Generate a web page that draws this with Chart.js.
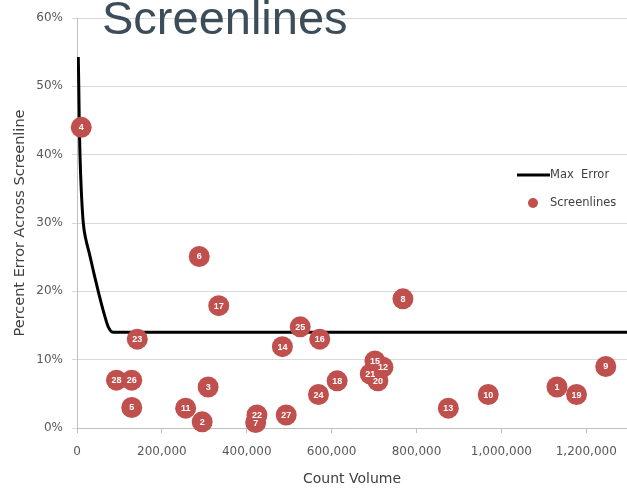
<!DOCTYPE html>
<html>
<head>
<meta charset="utf-8">
<style>
  html, body { margin: 0; padding: 0; background: #ffffff; overflow: hidden; }
  #wrap { position: relative; width: 627px; height: 488px; }
</style>
<script src="https://cdn.jsdelivr.net/npm/chart.js@4/dist/chart.umd.min.js"></script>
</head>
<body>
<div id="wrap"><canvas id="chart" width="627" height="488"></canvas></div>
<script>
// Maximum allowed error curve (percent) by count volume
const maxErrorVolumes = [3000, 4200, 5500, 7000, 10100, 14800, 21200, 28900, 40000, 50100, 63500, 73600, 85400, 1300000];
const maxErrorPercent = [54.3, 50, 44, 40, 34.8, 30, 27.5, 25.6, 22.6, 20, 16.8, 14.8, 14, 14];

// Screenline observations
const screenlineIds = [1, 2, 3, 4, 5, 6, 7, 8, 9, 10, 11, 12, 13, 14, 15, 16, 17, 18, 19, 20, 21, 22, 23, 24, 25, 26, 27, 28];
const screenlineVolumes = [1131000, 295000, 309000, 10000, 129000, 288000, 421000, 768000, 1246000, 969000,
                           256000, 721000, 875000, 484000, 702000, 572000, 334000, 613000, 1177000, 709000,
                           691000, 424000, 142000, 569000, 526000, 129000, 493000, 93000];
const screenlineErrors = [6.0, 0.9, 6.0, 44.0, 3.0, 25.1, 0.8, 18.9, 9.0, 4.9,
                          2.9, 8.9, 2.9, 11.9, 9.8, 13.0, 17.9, 6.9, 4.9, 6.9,
                          7.9, 1.9, 13.0, 4.9, 14.8, 7.0, 1.9, 7.0];

// Axis ticks
const xTickValues = [0, 200000, 400000, 600000, 800000, 1000000, 1200000];
const yTickValues = [0, 10, 20, 30, 40, 50, 60];

const chartTitle = 'Screenlines';
const xAxisTitle = 'Count Volume';
const yAxisTitle = 'Percent Error Across Screenline';

const RED = '#c0504d';
const TICK_FONT = 'DejaVu Sans';

const lineData = maxErrorVolumes.map((v, i) => ({ x: v, y: maxErrorPercent[i] }));
const pointData = screenlineVolumes.map((v, i) => ({ x: v, y: screenlineErrors[i], id: screenlineIds[i] }));

// Number labels drawn on top of every marker
const pointLabels = {
  id: 'pointLabels',
  afterDatasetsDraw(chart) {
    const ctx = chart.ctx;
    const meta = chart.getDatasetMeta(1);
    ctx.save();
    ctx.fillStyle = '#ffffff';
    ctx.font = 'bold 9px "Liberation Sans", Arial, sans-serif';
    ctx.textAlign = 'center';
    ctx.textBaseline = 'middle';
    meta.data.forEach((el, i) => {
      const p = el.getProps(['x', 'y'], true);
      ctx.fillText(String(chart.data.datasets[1].data[i].id), p.x, p.y + 0.5);
    });
    ctx.restore();
  }
};

// Heading and legend
const decorations = {
  id: 'decorations',
  afterDraw(chart) {
    const ctx = chart.ctx;
    ctx.save();
    // heading
    ctx.fillStyle = '#3c4d59';
    ctx.font = '47px "Liberation Sans", Arial, sans-serif';
    ctx.textAlign = 'left';
    ctx.textBaseline = 'alphabetic';
    ctx.fillText(chartTitle, 102, 34);

    // legend
    const lx = 517;
    const ly1 = 175, ly2 = 203;
    ctx.strokeStyle = '#000000';
    ctx.lineWidth = 3;
    ctx.beginPath();
    ctx.moveTo(lx, ly1);
    ctx.lineTo(lx + 33, ly1);
    ctx.stroke();
    ctx.fillStyle = RED;
    ctx.beginPath();
    ctx.arc(lx + 16, ly2, 5, 0, Math.PI * 2);
    ctx.fill();
    ctx.fillStyle = '#404040';
    ctx.font = '11.5px "DejaVu Sans", sans-serif';
    ctx.textBaseline = 'middle';
    ctx.fillText(chart.data.datasets[0].label, lx + 33, ly1);
    ctx.fillText(chart.data.datasets[1].label, lx + 33, ly2);
    ctx.restore();
  }
};

new Chart(document.getElementById('chart'), {
  type: 'scatter',
  data: {
    datasets: [
      {
        type: 'line',
        label: 'Max  Error',
        data: lineData,
        borderColor: '#000000',
        borderWidth: 3,
        pointRadius: 0,
        fill: false,
        cubicInterpolationMode: 'monotone',
        order: 2
      },
      {
        type: 'scatter',
        label: 'Screenlines',
        data: pointData,
        backgroundColor: RED,
        borderColor: RED,
        borderWidth: 0,
        pointRadius: 10.5,
        pointHoverRadius: 10.5,
        clip: false,
        order: 1
      }
    ]
  },
  options: {
    responsive: false,
    animation: false,
    layout: { autoPadding: false, padding: { top: 18, right: 0, bottom: 0, left: 0 } },
    plugins: {
      legend: { display: false },
      tooltip: { enabled: false },
      title: { display: false }
    },
    scales: {
      x: {
        type: 'linear',
        min: 0,
        max: 1296000,
        afterBuildTicks(scale) {
          scale.ticks = xTickValues.map(v => ({ value: v }));
        },
        afterFit(scale) {
          scale.height = 60;
          scale.paddingRight = 0;
        },
        ticks: {
          autoSkip: false,
          color: '#595959',
          font: { family: TICK_FONT, size: 12 },
          padding: 12,
          maxRotation: 0,
          callback: v => Number(v).toLocaleString('en-US')
        },
        grid: {
          drawOnChartArea: false,
          drawTicks: true,
          tickLength: 5,
          color: '#bfbfbf'
        },
        border: { display: true, color: '#bfbfbf' },
        title: {
          display: true,
          text: xAxisTitle,
          color: '#404040',
          font: { family: TICK_FONT, size: 14 },
          padding: { top: 2, bottom: 0 }
        }
      },
      y: {
        type: 'linear',
        min: 0,
        max: 60,
        afterBuildTicks(scale) {
          scale.ticks = yTickValues.map(v => ({ value: v }));
        },
        afterFit(scale) { scale.width = 77; },
        ticks: {
          color: '#595959',
          font: { family: TICK_FONT, size: 12 },
          padding: 9,
          callback: v => v + '%'
        },
        grid: {
          color: '#d9d9d9',
          tickLength: 5
        },
        border: { display: true, color: '#bfbfbf' },
        title: {
          display: true,
          text: yAxisTitle,
          color: '#404040',
          font: { family: TICK_FONT, size: 14.5 },
          padding: { top: 12, bottom: 0 }
        }
      }
    }
  },
  plugins: [pointLabels, decorations]
});
</script>
</body>
</html>
